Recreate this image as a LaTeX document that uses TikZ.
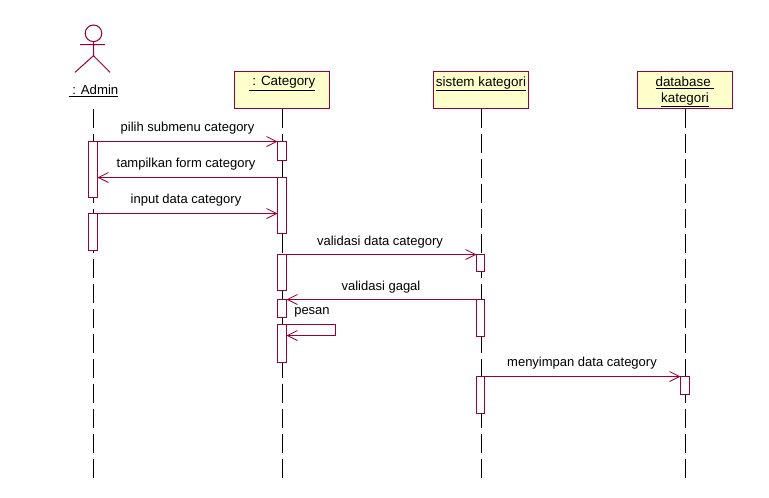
\documentclass[tikz,border=0pt]{standalone}
\usepackage{fontspec}
\setmainfont{Liberation Sans}
\usetikzlibrary{arrows.meta}
\definecolor{umlline}{HTML}{990033}
\definecolor{umlfill}{HTML}{FFFFCC}
\newcommand{\boxtext}[1]{\parbox[c][37pt][t]{95pt}{\centering\fontsize{13.4}{16.3}\selectfont\vspace{5pt}#1}}
\tikzset{
  x=1pt, y=-1pt,
  umlbox/.style={draw=umlline, fill=umlfill, line width=1pt, inner sep=0pt, outer sep=0pt, minimum width=95pt, minimum height=37pt},
  lifeline/.style={draw=black, line width=1pt, dash pattern=on 19pt off 6pt},
  activation/.style={draw=umlline, fill=white, line width=1pt, inner sep=0pt, outer sep=0pt, minimum width=9pt},
  message/.style={draw=umlline, line width=1pt, -{Straight Barb[length=10pt,width=10pt,line width=0.8pt]}},
  msglabel/.style={inner sep=0pt, font=\fontsize{13}{15}\selectfont},
  actorline/.style={draw=umlline, line width=1pt}
}
\begin{document}
\begin{tikzpicture}
\useasboundingbox (0,0) rectangle (769,498);
\fill[white] (0,0) rectangle (769,498);
% object boxes
\node[umlbox] (cat) at (282,90) {\boxtext{\underline{\ : Category}}};
\node[umlbox] (sis) at (481,90) {\boxtext{\underline{sistem kategori}}};
\node[umlbox] (dbk) at (685,90) {\boxtext{\underline{database\ }\\\underline{kategori}}};
% actor
\draw[actorline] (93.5,33.3) circle (8.3);
\draw[actorline] (80,44.5) -- (105,44.5) (93.5,41.6) -- (93.5,55.7) -- (75,72.3) (93.5,55.7) -- (110,72.3);
\node[msglabel, font=\fontsize{13.2}{15}\selectfont] (adm) at (93.5,91) {\underline{\ : Admin}};
% lifelines
\coordinate (admEnd) at (93.5,478);
\coordinate (catEnd) at (282.5,478);
\coordinate (sisEnd) at (481.5,478);
\coordinate (dbkEnd) at (685.5,478);
\coordinate (admTop) at (93.5,109);
\draw[lifeline] (admTop) -- (admEnd);
\draw[lifeline] ([xshift=0.5pt]cat.south) -- (catEnd);
\draw[lifeline] ([xshift=0.5pt]sis.south) -- (sisEnd);
\draw[lifeline] ([xshift=0.5pt]dbk.south) -- (dbkEnd);
% activations
\node[activation, minimum height=56pt] (a1) at (93,169.5) {};
\node[activation, minimum height=37pt] (a2) at (93,232) {};
\node[activation, minimum height=19pt] (c1) at (282,151) {};
\node[activation, minimum height=56pt] (c2) at (282,205.5) {};
\node[activation, minimum height=36pt] (c3) at (282,272.5) {};
\node[activation, minimum height=18pt] (c4) at (282,308.5) {};
\node[activation, minimum height=38pt] (c5) at (282,343.5) {};
\node[activation, minimum width=8pt, minimum height=17pt] (s1) at (480.5,263) {};
\node[activation, minimum width=8pt, minimum height=37pt] (s2) at (480.5,318) {};
\node[activation, minimum width=8pt, minimum height=37pt] (s3) at (480.5,395) {};
\node[activation, minimum height=18pt] (d1) at (685,385.5) {};
% messages
\draw[message] (a1.north east) -- (c1.north west);
\draw[message] (c2.north west) -- (a1.east |- c2.north);
\draw[message] (a2.north east) -- (c2.west |- a2.north);
\draw[message] (c3.north east) -- (s1.north west);
\draw[message] (s2.north west) -- (c4.north east);
\coordinate (selfA) at (335.5,324.5);
\coordinate (selfB) at (335.5,335.5);
\draw[message] (c5.north east) -- (selfA) -- (selfB) -- (c5.east |- selfB);
\draw[message] (s3.north east) -- (d1.north west);
% labels
\node[msglabel] (l1) at (187.5,128.5) {pilih submenu category};
\node[msglabel] (l2) at (186,164.5) {tampilkan form category};
\node[msglabel] (l3) at (186,200.5) {input data category};
\node[msglabel] (l4) at (380,242) {validasi data category};
\node[msglabel] (l5) at (381,287) {validasi gagal};
\node[msglabel] (l6) at (312,312.5) {pesan};
\node[msglabel] (l7) at (582,363) {menyimpan data category};
\end{tikzpicture}
\end{document}
